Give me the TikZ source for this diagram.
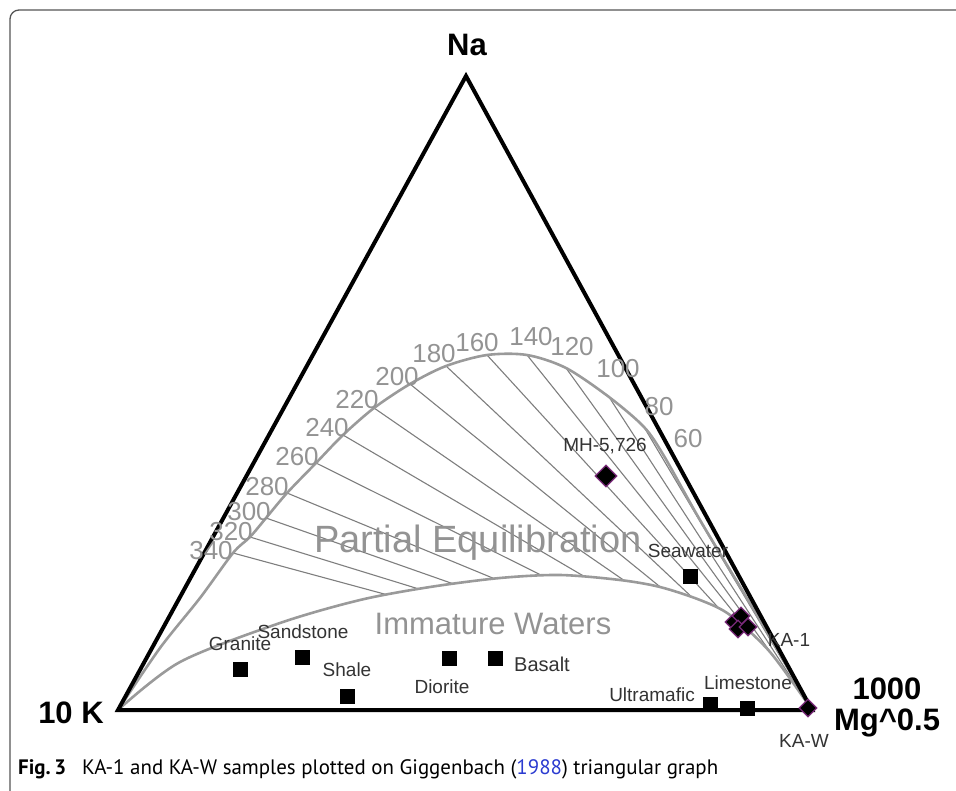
\documentclass[tikz,border=0pt]{standalone}
\usepackage{fontspec}
\setmainfont{Liberation Sans}
\newfontfamily\capfont{PT Sans}
\usetikzlibrary{calc,shapes.geometric}
\definecolor{curvegray}{HTML}{9A9A9A}
\definecolor{linegray}{HTML}{7E7E7E}
\definecolor{labgray}{HTML}{939393}
\definecolor{dpurple}{HTML}{7A2A7A}
\definecolor{txtdark}{HTML}{333333}
\definecolor{refblue}{HTML}{2B3BD0}
\definecolor{framegray}{HTML}{555555}
\begin{document}
\begin{tikzpicture}[x=1pt,y=-1pt,
  side/.style={line width=4pt, line join=miter, line cap=round},
  eqcurve/.style={draw=curvegray, line width=2.6pt},
  radial/.style={draw=linegray, line width=1.1pt},
  tlab/.style={text=labgray, font=\fontsize{26}{26}\selectfont, inner sep=0},
  slab/.style={text=txtdark, font=\fontsize{19}{19}\selectfont, inner sep=0},
  vlab/.style={font=\bfseries\fontsize{31}{31}\selectfont, inner sep=0},
  biglab/.style={text=labgray, inner sep=0},
  rock/.style={rectangle, fill=black, minimum size=15pt, inner sep=0},
  samp/.style={diamond, fill=black, draw=dpurple, line width=1.3pt, minimum size=18pt, inner sep=0},
]
\useasboundingbox (0,0) rectangle (956,791);
% frame
\draw[framegray, line width=1.3pt, rounded corners=9pt] (10,820) -- (10,10) -- (990,10);

% vertices
\coordinate (vNa) at (466,76);
\coordinate (vK) at (118,710);
\coordinate (vMg) at (812,710);

% tick points on the full equilibrium curve
\coordinate (t340) at (233,553);
\coordinate (t320) at (250,537);
\coordinate (t300) at (266,518);
\coordinate (t280) at (287,493);
\coordinate (t260) at (316,463);
\coordinate (t240) at (343,435);
\coordinate (t220) at (374,408);
\coordinate (t200) at (410,384);
\coordinate (t180) at (446,366);
\coordinate (t160) at (487,355);
\coordinate (t140) at (527,355);
\coordinate (t120) at (566,368);
\coordinate (t100) at (609,397);
\coordinate (t80) at (644,427);
\coordinate (t60) at (664,456);

% radial lines, clipped between the two curves
\begin{scope}
\clip plot[smooth, tension=0.5] coordinates {(118,710) (160,648) (200,598) (233,553) (250,537) (266,518) (287,493) (316,463) (343,435) (374,408) (410,384) (446,366) (487,355) (527,355) (566,368) (609,397) (644,427) (664,456) (700,520) (757,615) (812,710)}
  -- plot[smooth, tension=0.5] coordinates {(812,710) (770,652) (730,615) (700,600) (660,587) (620,580) (560,575) (500,578) (430,587) (360,600) (280,623) (180,662) (118,710)} -- cycle;
\foreach \t in {340,320,300,280,260,240,220,200,180,160,140,120,100,80,60}
  \draw[radial] (vMg) -- ($(vMg)!1.2!(t\t)$);
\end{scope}

% curves
\draw[eqcurve] plot[smooth, tension=0.5] coordinates {(118,710) (160,648) (200,598) (233,553) (250,537) (266,518) (287,493) (316,463) (343,435) (374,408) (410,384) (446,366) (487,355) (527,355) (566,368) (609,397) (644,427) (664,456) (700,520) (757,615) (812,710)};
\draw[eqcurve] plot[smooth, tension=0.5] coordinates {(118,710) (180,662) (280,623) (360,600) (430,587) (500,578) (560,575) (620,580) (660,587) (700,600) (730,615) (770,652) (812,710)};

% triangle
\draw[side] (vK) -- (vNa) -- (vMg) -- cycle;

% vertex labels
\node[vlab] (lNa) at (467,45) {Na};
\node[vlab] (lK) at (71,713) {10 K};
\node[vlab, align=center] (lMg) at (887,707) {1000\\Mg\textasciicircum 0.5};

% temperature labels
\node[tlab] (l340) at (211,551) {340};
\node[tlab] (l320) at (231,532) {320};
\node[tlab] (l300) at (249,512) {300};
\node[tlab] (l280) at (267,487) {280};
\node[tlab] (l260) at (297,457) {260};
\node[tlab] (l240) at (327,428) {240};
\node[tlab] (l220) at (357,400) {220};
\node[tlab] (l200) at (397,377) {200};
\node[tlab] (l180) at (434,354) {180};
\node[tlab] (l160) at (477,343) {160};
\node[tlab] (l140) at (531,337) {140};
\node[tlab] (l120) at (572,347) {120};
\node[tlab] (l100) at (618,369) {100};
\node[tlab] (l80) at (659,407) {80};
\node[tlab] (l60) at (688,439) {60};

% region labels
\node[biglab, font=\fontsize{38}{38}\selectfont] (pe) at (478,543) {Partial Equilibration};
\node[biglab, font=\fontsize{31}{31}\selectfont] (iw) at (493,624) {Immature Waters};

% rock reference points
\node[rock] (granite) at (240,669) {};
\node[rock] (sandstone) at (302,657) {};
\node[rock] (shale) at (347,696) {};
\node[rock] (diorite) at (449,658) {};
\node[rock] (basalt) at (495,658) {};
\node[rock] (ultramafic) at (710,704) {};
\node[rock] (limestone) at (747,708) {};
\node[rock] (seawater) at (690,576) {};
\node[slab] (lgranite) at (240,644) {Granite};
\node[slab] (lsandstone) at (303,632) {Sandstone};
\node[slab] (lshale) at (347,670) {Shale};
\node[slab] (ldiorite) at (442,687) {Diorite};
\node[slab, font=\fontsize{20}{20}\selectfont] (lbasalt) at (542,664) {Basalt};
\node[slab] (lultramafic) at (652,695) {Ultramafic};
\node[slab] (llimestone) at (748,683) {Limestone};
\node[slab] (lseawater) at (688,551) {Seawater};

% samples
\node[samp, minimum size=22pt] (mh) at (606,476) {};
\node[samp] (ka1a) at (734,622) {};
\node[samp] (ka1b) at (741,616) {};
\node[samp] (ka1c) at (738,629) {};
\node[samp] (ka1d) at (748,627) {};
\node[samp] (kaw) at (808,708) {};
\node[slab] (lmh) at (605,446) {MH-5,726};
\node[slab] (lka1) at (789,640) {KA-1};
\node[slab] (lkaw) at (804,741) {KA-W};

% caption
\node[anchor=base west, inner sep=0] (cap) at (18,774) {\resizebox{700pt}{!}{\capfont\fontsize{21}{21}\selectfont\textbf{Fig.\,3}\hspace{0.5em} KA-1 and KA-W samples plotted on Giggenbach (\textcolor{refblue}{1988}) triangular graph}};
\end{tikzpicture}
\end{document}
